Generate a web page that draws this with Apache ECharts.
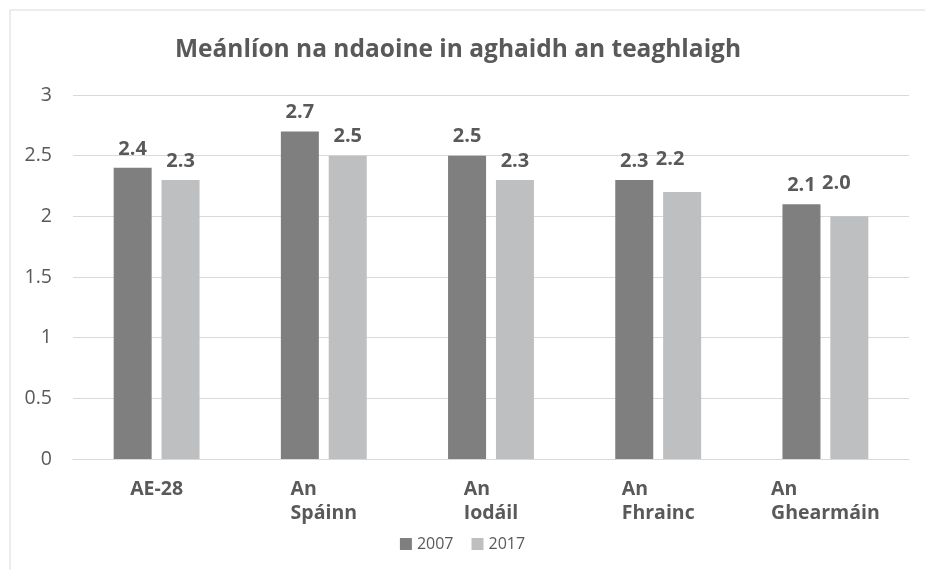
<!DOCTYPE html>
<html>
<head>
<meta charset="utf-8">
<script src="https://cdn.jsdelivr.net/npm/echarts@6/dist/echarts.min.js"></script>
<style>
  html, body { margin: 0; padding: 0; background: #fff; }
  #charts_main { width: 925px; height: 570px; }
</style>
</head>
<body>
<div id="charts_main"></div>
<script>
// data
const categories = ['AE-28', 'An Spáinn', 'An Iodáil', 'An Fhrainc', 'An Ghearmáin'];
const values2007 = [2.4, 2.7, 2.5, 2.3, 2.1];
const values2017 = [2.3, 2.5, 2.3, 2.2, 2.0];
const seriesNames = ['2007', '2017'];
const yTicks = [0, 0.5, 1, 1.5, 2, 2.5, 3];

// label nudges for the two 2017 labels that were moved by hand in the original
const offsets2017 = [[0, 0], [0, 0], [0, 0], [-12, -14], [-13, -14]];

const textColor = '#595959';
const font = 'Open Sans';

function init() {
  let Chart = echarts.init(document.getElementById('charts_main'));

  const labelStyle = {
    show: true,
    position: 'top',
    distance: 9,
    fontFamily: font,
    fontWeight: 'bold',
    fontSize: 20,
    color: textColor,
    formatter: p => Number(p.value).toFixed(1)
  };

  let option = {
    backgroundColor: '#fff',
    animation: false,
    title: {
      text: 'Meánlíon na ndaoine in aghaidh an teaghlaigh',
      left: 170,
      top: 33,
      textStyle: { fontFamily: font, fontWeight: 'bold', fontSize: 24.5, color: textColor }
    },
    graphic: [{
      type: 'rect',
      shape: { x: 10, y: 10, width: 940, height: 600 },
      style: { fill: 'none', stroke: '#d9d9d9', lineWidth: 1 },
      silent: true
    }],
    legend: {
      bottom: 13,
      left: 'center',
      itemWidth: 12,
      itemHeight: 12,
      itemGap: 18,
      icon: 'rect',
      textStyle: { fontFamily: font, fontSize: 16, color: textColor }
    },
    grid: { left: 73, right: 16, top: 95, bottom: 111 },
    xAxis: {
      type: 'category',
      data: categories,
      axisLine: { show: true, lineStyle: { color: '#d9d9d9' } },
      axisTick: { show: false },
      axisLabel: {
        interval: 0,
        margin: 18,
        align: 'center',
        formatter: v => v.split(' ').map(w => '{a|' + w + '}').join('\n'),
        rich: {
          a: {
            align: 'left',
            fontFamily: font,
            fontWeight: 'bold',
            fontSize: 19.5,
            lineHeight: 24,
            color: textColor
          }
        }
      }
    },
    yAxis: {
      type: 'value',
      min: yTicks[0],
      max: yTicks[yTicks.length - 1],
      interval: yTicks[1] - yTicks[0],
      axisLine: { show: false },
      axisTick: { show: false },
      splitLine: { lineStyle: { color: '#d9d9d9' } },
      axisLabel: { margin: 21, fontFamily: font, fontSize: 19.5, color: textColor }
    },
    series: [
      {
        name: seriesNames[0],
        type: 'bar',
        barWidth: 38,
        barGap: '26%',
        itemStyle: { color: '#7f7f80' },
        label: labelStyle,
        data: values2007
      },
      {
        name: seriesNames[1],
        type: 'bar',
        barWidth: 38,
        itemStyle: { color: '#bebfc1' },
        label: labelStyle,
        data: values2017.map((v, i) => ({ value: v, label: { offset: offsets2017[i] } }))
      }
    ]
  };
  Chart.setOption(option);
}

init();
</script>
</body>
</html>
